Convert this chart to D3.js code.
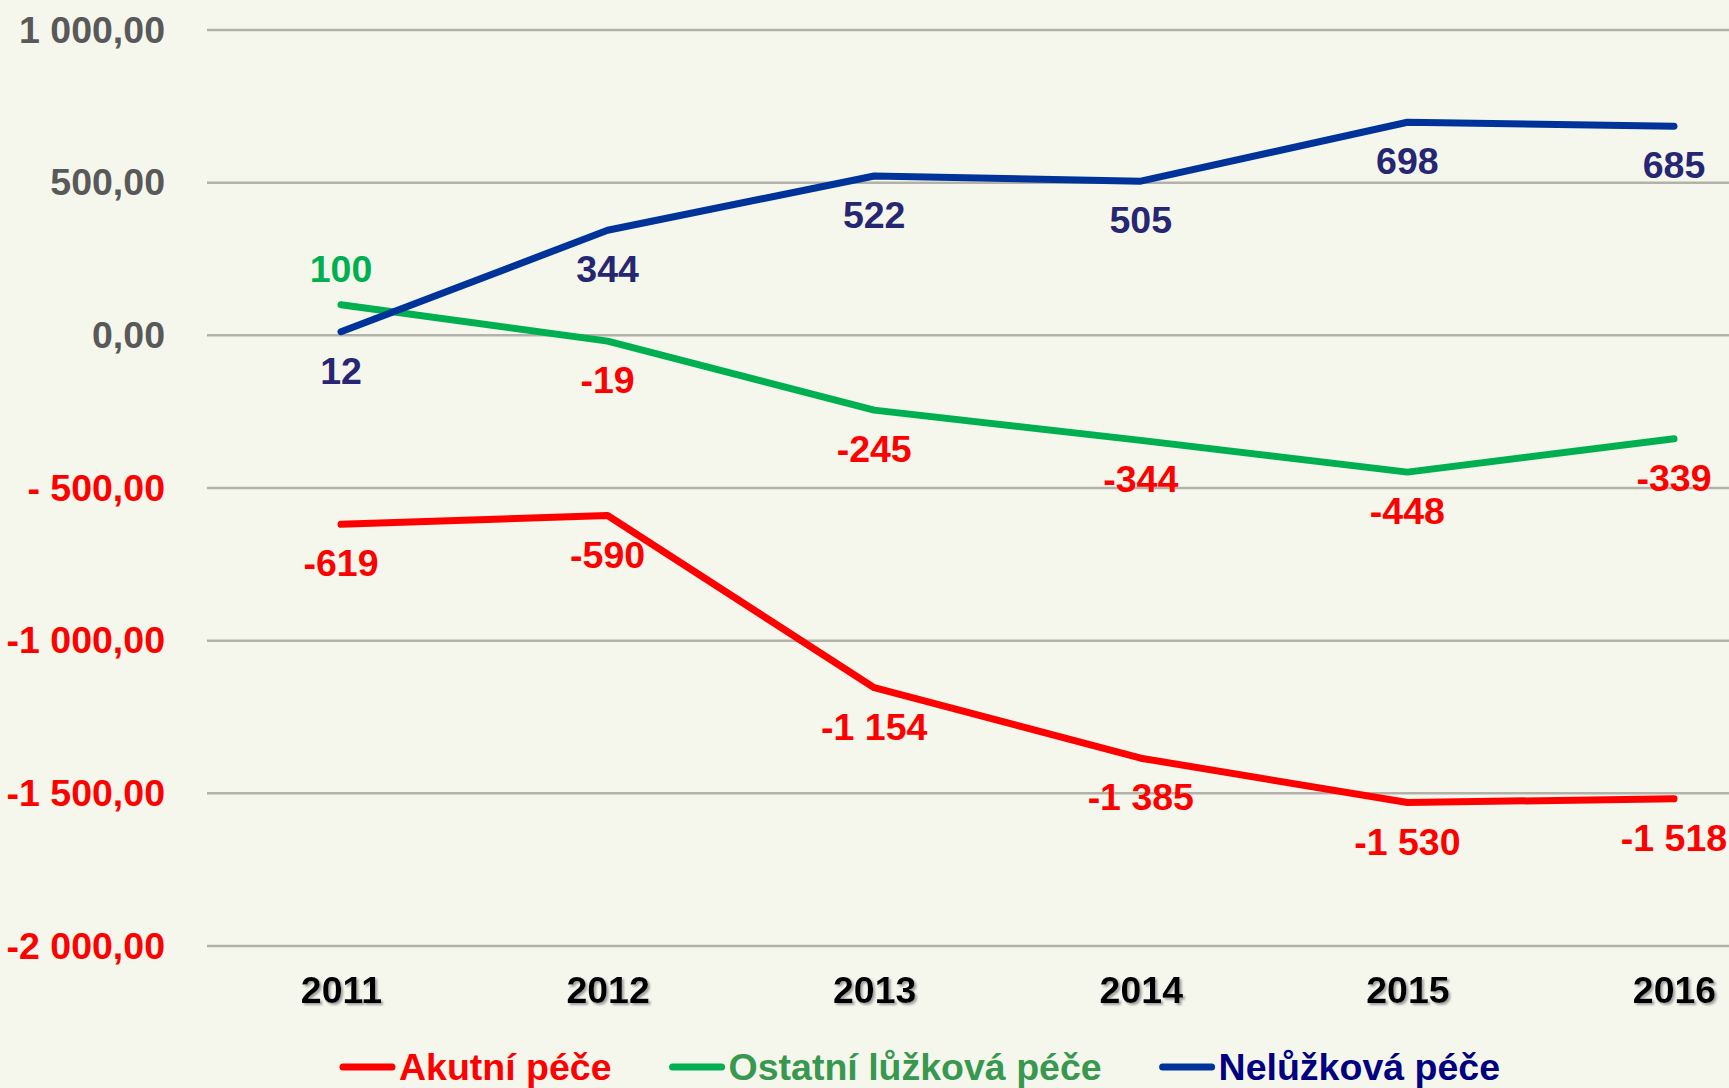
<!DOCTYPE html>
<html>
<head>
<meta charset="utf-8">
<script src="https://cdn.jsdelivr.net/npm/d3@7"></script>
<style>
  html, body { margin: 0; padding: 0; background: #f5f7ec; }
  svg { display: block; font-family: "Liberation Sans", Arial, sans-serif; font-weight: bold; }
</style>
</head>
<body>
<script>
// years on the x axis
var years = [2011, 2012, 2013, 2014, 2015, 2016];

// series values (change vs. 2010)
var akutni = [-619, -590, -1154, -1385, -1530, -1518];
var ostatni = [100, -19, -245, -344, -448, -339];
var neluzkova = [12, 344, 522, 505, 698, 685];

// y axis ticks and their labels as printed
var yTicks = [1000, 500, 0, -500, -1000, -1500, -2000];
var yTickLabels = ["1 000,00", "500,00", "0,00", "- 500,00", "-1 000,00", "-1 500,00", "-2 000,00"];

var seriesNames = ["Akutní péče", "Ostatní lůžková péče", "Nelůžková péče"];

var width = 1729,
    height = 1088;

var fontSize = 37.5;

var svg = d3.select("body").append("svg")
    .attr("width", width)
    .attr("height", height);

svg.append("rect")
    .attr("width", width)
    .attr("height", height)
    .attr("fill", "#f5f7ec");

// shadow for the year labels
var defs = svg.append("defs");
defs.append("filter")
    .attr("id", "shadow")
    .attr("x", "-20%").attr("y", "-20%")
    .attr("width", "140%").attr("height", "140%")
  .append("feDropShadow")
    .attr("dx", 2).attr("dy", 2)
    .attr("stdDeviation", 1)
    .attr("flood-color", "#8a8a8a")
    .attr("flood-opacity", 0.8);

var x = d3.scalePoint()
    .domain(years)
    .range([341, 1674]);

var y = d3.scaleLinear()
    .domain([-2000, 1000])
    .range([946, 30]);

// locale with space as thousands separator
var cz = d3.formatLocale({ decimal: ",", thousands: " ", grouping: [3], currency: ["", " Kč"], minus: "-" });
var fmt = cz.format(",d");

// gridlines
svg.append("g")
    .selectAll("line")
    .data(yTicks)
    .enter().append("line")
    .attr("x1", 207)
    .attr("x2", width)
    .attr("y1", function(d) { return y(d); })
    .attr("y2", function(d) { return y(d); })
    .attr("stroke", "#b2b2aa")
    .attr("stroke-width", 2.5);

// y axis
var yAxis = d3.axisLeft(y)
    .tickValues(yTicks)
    .tickSize(0)
    .tickPadding(0)
    .tickFormat(function(d, i) { return yTickLabels[i]; });

var yG = svg.append("g")
    .attr("transform", "translate(165,0)")
    .call(yAxis);
yG.select(".domain").remove();
yG.selectAll("text")
    .attr("font-family", "'Liberation Sans', Arial, sans-serif")
    .attr("font-weight", "bold")
    .attr("font-size", fontSize)
    .attr("fill", function(d) { return d < 0 ? "#ff0000" : "#595959"; });

// x axis
var xAxis = d3.axisBottom(x)
    .tickSize(0)
    .tickPadding(0);

var xG = svg.append("g")
    .attr("transform", "translate(0,976)")
    .call(xAxis);
xG.select(".domain").remove();
xG.selectAll("text")
    .attr("font-family", "'Liberation Sans', Arial, sans-serif")
    .attr("font-weight", "bold")
    .attr("font-size", fontSize)
    .attr("fill", "#000")
    .attr("filter", "url(#shadow)");

// series
var series = [
    { name: seriesNames[0], values: akutni, color: "#ff0000", legendText: "#ff0000", labelColor: function() { return "#ff0000"; } },
    { name: seriesNames[1], values: ostatni, color: "#00b050", legendText: "#38984f", labelColor: function(v) { return v >= 0 ? "#00b050" : "#ff0000"; } },
    { name: seriesNames[2], values: neluzkova, color: "#003399", legendText: "#000080", labelColor: function() { return "#262673"; } }
];

var line = d3.line()
    .x(function(d, i) { return x(years[i]); })
    .y(function(d) { return y(d); });

series.forEach(function(s) {
    svg.append("path")
        .datum(s.values)
        .attr("d", line)
        .attr("fill", "none")
        .attr("stroke", s.color)
        .attr("stroke-width", 7)
        .attr("stroke-linecap", "round")
        .attr("stroke-linejoin", "round");
});

// data labels
series.forEach(function(s) {
    svg.append("g")
        .selectAll("text")
        .data(s.values)
        .enter().append("text")
        .attr("x", function(d, i) { return x(years[i]); })
        .attr("y", function(d) { return y(d) + (d >= 0 && s.name === seriesNames[1] ? -36 : 39); })
        .attr("dy", "0.35em")
        .attr("text-anchor", "middle")
        .attr("font-size", fontSize)
        .attr("fill", function(d) { return s.labelColor(d); })
        .text(function(d) { return fmt(d); });
});

// legend
var legend = svg.append("g").attr("transform", "translate(0,1067)");
var lx = 340;
series.forEach(function(s) {
    legend.append("line")
        .attr("x1", lx + 3).attr("x2", lx + 52)
        .attr("y1", 0).attr("y2", 0)
        .attr("stroke", s.color)
        .attr("stroke-width", 7)
        .attr("stroke-linecap", "round");
    var t = legend.append("text")
        .attr("x", lx + 59)
        .attr("dy", "0.35em")
        .attr("font-size", fontSize)
        .attr("fill", s.legendText)
        .text(s.name);
    lx = lx + 59 + t.node().getComputedTextLength() + 58;
});
</script>
</body>
</html>
